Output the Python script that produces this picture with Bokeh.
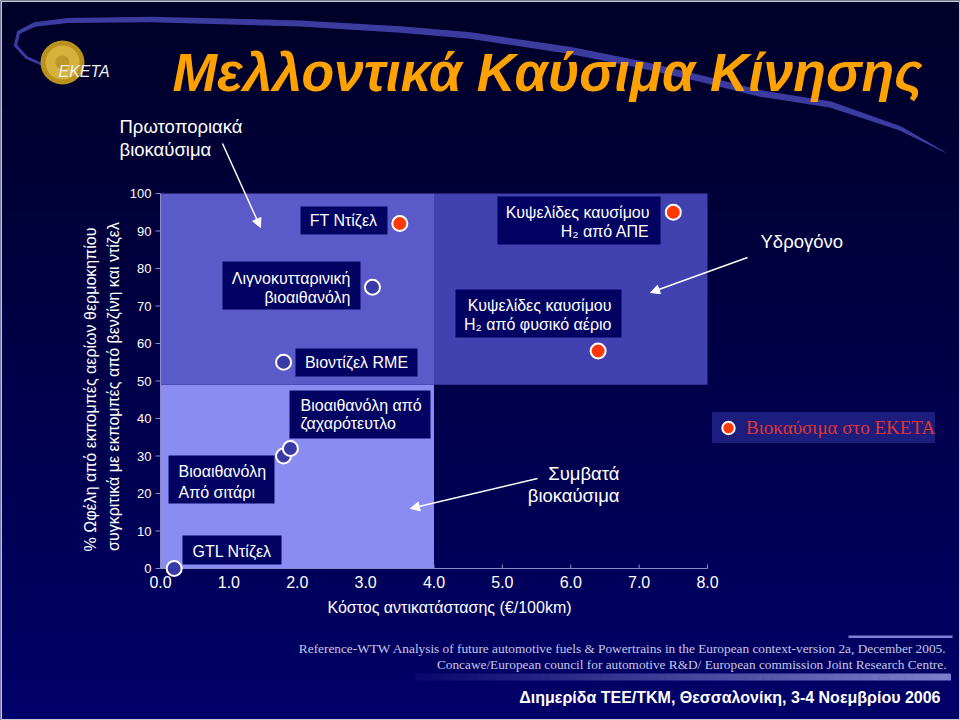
import numpy as np
from bokeh.plotting import figure
from bokeh.models import Range1d, Arrow, NormalHead, Legend, LegendItem
from bokeh.core.properties import value
from bokeh.embed import file_html
from bokeh.resources import INLINE

# ---------------- data ----------------
fuels = ["GTL Ντίζελ", "Βιοαιθανόλη Από σιτάρι", "Βιοαιθανόλη από ζαχαρότευτλο",
         "Βιοντίζελ RME", "Λιγνοκυτταρινική βιοαιθανόλη", "FT Ντίζελ",
         "Κυψελίδες καυσίμου H₂ από φυσικό αέριο", "Κυψελίδες καυσίμου H₂ από ΑΠΕ"]
cost = [0.2, 1.8, 1.9, 1.8, 3.1, 3.5, 6.4, 7.5]          # €/100km
benefit = [0, 30, 32, 55, 75, 92, 58, 95]                # % GHG benefit
eketa = [False, False, False, False, False, True, True, True]

x_ticks = [0, 1, 2, 3, 4, 5, 6, 7, 8]
y_ticks = [0, 10, 20, 30, 40, 50, 60, 70, 80, 90, 100]

zone_x0 = [0, 0, 4]
zone_x1 = [4, 4, 8]
zone_y0 = [0, 49, 49]
zone_y1 = [49, 100, 100]
zone_colors = ["#8a8cf2", "#5a5ac8", "#4141b0"]

# ---------------- layout helpers (reference pixels -> data) ----------------
W, H = 960, 720
PX0, PX8 = 160, 707        # pixel of x=0 and x=8
PY0, PY100 = 568, 193      # pixel of y=0 and y=100
XS = (PX8 - PX0) / 8.0
YS = (PY0 - PY100) / 100.0


def dx(X):
    return (X - PX0) / XS


def dy(Y):
    return (PY0 - Y) / YS


FONT = "Liberation Sans"

p = figure(width=W, height=H, output_backend="svg", toolbar_location=None,
           x_range=Range1d(dx(0), dx(W)), y_range=Range1d(dy(H), dy(0)),
           x_axis_location=None, y_axis_location=None, min_border=0)
p.background_fill_color = "#00004a"
p.border_fill_color = "#00004a"
p.outline_line_color = None
p.grid.visible = False

# background gradient
nb = 48
c0 = np.array([0, 0, 40])
c1 = np.array([0, 0, 104])
bg_t, bg_b, bg_c = [], [], []
for i in range(nb):
    t = i / (nb - 1)
    c = (c0 + (c1 - c0) * t).astype(int)
    bg_c.append("#%02x%02x%02x" % tuple(c))
    bg_t.append(dy(i * H / nb))
    bg_b.append(dy((i + 1) * H / nb + 0.6))
p.quad(left=dx(0), right=dx(W), top=bg_t, bottom=bg_b, fill_color=bg_c, line_color=None)

# swoosh
cl = [(46, 66), (26, 57), (15, 45), (18, 32), (34, 24), (67, 20), (150, 19), (300, 23), (400, 29),
      (470, 35), (570, 50), (640, 64), (700, 78), (760, 93), (830, 104), (900, 128), (945, 152)]
hw = [1.2, 1.5, 1.8, 2.0, 2.2, 2.5, 2.8, 3.0, 3.2, 3.4, 3.5, 3.5, 3.4, 3.2, 3.0, 2.2, 0.3]
pts = np.array(cl, dtype=float)
top, bot = [], []
for i in range(len(pts)):
    a = pts[max(i - 1, 0)]
    b = pts[min(i + 1, len(pts) - 1)]
    d = b - a
    n = np.array([-d[1], d[0]]) / np.hypot(*d)
    top.append(pts[i] + n * hw[i])
    bot.append(pts[i] - n * hw[i])
poly = top + bot[::-1]
p.patch([dx(q[0]) for q in poly], [dy(q[1]) for q in poly], fill_color="#3b3ba0", line_color=None)

# logo
p.scatter([dx(62)], [dy(62)], size=44, fill_color="#b8921c", line_color=None)
p.scatter([dx(62)], [dy(62)], size=34, fill_color="#d6b23c", line_color=None)
p.scatter([dx(62)], [dy(62)], size=14, fill_color="#bd9826", line_color=None)


def text(t, X, Y, size="18.5px", color="white", align="left", baseline="middle", font=FONT,
         style="normal", angle=0):
    p.text(x=[dx(X)], y=[dy(Y)], text=[t], text_font=value(font), text_font_size=size,
           text_color=color, text_align=align, text_baseline=baseline,
           text_font_style=style, angle=angle)


text("ΕΚΕΤΑ", 58, 71, size="16px", color="#eeeef6", style="italic")

# title
text("Μελλοντικά Καύσιμα Κίνησης", 172, 72, size="53.5px", color="#ffa200", style="bold italic")

# zones
p.quad(left=zone_x0, right=zone_x1, bottom=zone_y0, top=zone_y1, fill_color=zone_colors, line_color=None)

# axes (drawn from the tick lists)
AX = "#8c8cc8"
p.segment(x0=[0], y0=[0], x1=[8], y1=[0], line_color=AX, line_width=1)
p.segment(x0=[0], y0=[0], x1=[0], y1=[100], line_color=AX, line_width=1)
p.segment(x0=x_ticks, y0=[0] * len(x_ticks), x1=x_ticks, y1=[4 / YS] * len(x_ticks), line_color=AX)
p.segment(x0=[-5 / XS] * len(y_ticks), y0=y_ticks, x1=[0] * len(y_ticks), y1=y_ticks, line_color=AX)
p.text(x=x_ticks, y=[dy(575)] * len(x_ticks), text=["%.1f" % v for v in x_ticks],
       text_font=value(FONT), text_font_size="16px", text_color="white",
       text_align="center", text_baseline="top")
p.text(x=[dx(151)] * len(y_ticks), y=y_ticks, text=["%d" % v for v in y_ticks],
       text_font=value(FONT), text_font_size="13px", text_color="white",
       text_align="right", text_baseline="middle")

# label boxes (reference pixel rectangles)
boxes = [(300, 387, 206, 234), (222, 360, 261, 309), (295, 417, 348, 376), (289, 430, 390, 438),
         (168, 274, 455, 503), (182, 281, 535, 564), (497, 660, 196, 244), (455, 621, 289, 337)]
p.quad(left=[dx(b[0]) for b in boxes], right=[dx(b[1]) for b in boxes],
       top=[dy(b[2]) for b in boxes], bottom=[dy(b[3]) for b in boxes],
       fill_color="#020262", line_color=None)

lines = [("FT Ντίζελ", 343, 220, "center"),
         ("Λιγνοκυτταρινική", 350, 278, "right"), ("βιοαιθανόλη", 350, 297, "right"),
         ("Βιοντίζελ RME", 356, 362, "center"),
         ("Βιοαιθανόλη από", 300, 405, "left"), ("ζαχαρότευτλο", 300, 423, "left"),
         ("Βιοαιθανόλη", 178, 471, "left"), ("Από σιτάρι", 178, 492, "left"),
         ("GTL Ντίζελ", 192, 551, "left"),
         ("Κυψελίδες καυσίμου", 649, 212, "right"), ("H₂ από ΑΠΕ", 649, 231, "right"),
         ("Κυψελίδες καυσίμου", 611, 305, "right"), ("H₂ από φυσικό αέριο", 611, 324, "right")]
for t, X, Y, al in lines:
    text(t, X, Y, size="16px", align=al)

# points
bx = [c for c, e in zip(cost, eketa) if not e]
by = [b for b, e in zip(benefit, eketa) if not e]
rx = [c for c, e in zip(cost, eketa) if e]
ry = [b for b, e in zip(benefit, eketa) if e]
p.scatter(bx, by, size=15, fill_color="#3a3aa6", line_color="white", line_width=2)
red = p.scatter(rx, ry, size=15, fill_color="#ff3a08", line_color="white", line_width=2)

legend = Legend(items=[LegendItem(label="Βιοκαύσιμα στο ΕΚΕΤΑ", renderers=[red])],
                location=(712, H - 443), background_fill_color="#1d1d7e", background_fill_alpha=1,
                border_line_color=None, label_text_color="#e03434", label_text_font="Liberation Serif",
                label_text_font_size="19px", glyph_width=32, glyph_height=31, padding=0, margin=0,
                spacing=0, label_standoff=2)
p.add_layout(legend)


def arrow(X0, Y0, X1, Y1):
    p.add_layout(Arrow(end=NormalHead(size=9, fill_color="white", line_color="white", line_width=1),
                       x_start=dx(X0), y_start=dy(Y0), x_end=dx(X1), y_end=dy(Y1),
                       line_color="white", line_width=1.5))


# annotations in chart
text("Πρωτοποριακά", 119, 126)
text("βιοκαύσιμα", 119, 149)
arrow(222, 143, 260, 227)
text("Συμβατά", 619, 473, align="right")
text("βιοκαύσιμα", 619, 495, align="right")
arrow(537, 478, 410, 508)
text("Υδρογόνο", 760, 241)
arrow(747, 257, 650, 292)

# axis titles
text("Κόστος αντικατάστασης (€/100km)", 449, 607, size="16px", align="center")
text("% Ωφέλη από εκπομπές αερίων θερμοκηπίου", 90, 389, size="16px", align="center", angle=np.pi / 2)
text("συγκριτικά με εκπομπές από βενζίνη και ντίζελ", 113, 386, size="16px", align="center", angle=np.pi / 2)

# footer
p.quad(left=[dx(848)], right=[dx(952)], top=[dy(635)], bottom=[dy(637.5)], fill_color="#8080d8", line_color=None)
text("Reference-WTW Analysis of future automotive fuels & Powertrains in the European context-version 2a, December 2005.",
     946, 648, size="13.3px", color="#c8c8e2", align="right", font="Liberation Serif")
text("Concawe/European council for automotive R&D/ European commission Joint Research Centre.",
     946, 664, size="13.3px", color="#c8c8e2", align="right", font="Liberation Serif")
ng = 60
gl, gr, gc = [], [], []
for i in range(ng):
    t = i / (ng - 1)
    c = (np.array([10, 10, 110]) + (np.array([125, 125, 205]) - np.array([10, 10, 110])) * t).astype(int)
    gl.append(dx(415 + i * (950 - 415) / ng))
    gr.append(dx(415 + (i + 1) * (950 - 415) / ng + 0.5))
    gc.append("#%02x%02x%02x" % tuple(c))
p.quad(left=gl, right=gr, top=dy(673), bottom=dy(680), fill_color=gc, line_color=None)
text("Διημερίδα ΤΕΕ/ΤΚΜ, Θεσσαλονίκη, 3-4 Νοεμβρίου 2006", 940, 697, size="16px", align="right",
     style="bold")

# slide edge
p.quad(left=[dx(0.75)], right=[dx(959.25)], top=[dy(0.75)], bottom=[dy(719.25)], fill_alpha=0,
       line_color="#c8c8d0", line_width=1.5)

open("out.html", "w").write(file_html(p, INLINE))
